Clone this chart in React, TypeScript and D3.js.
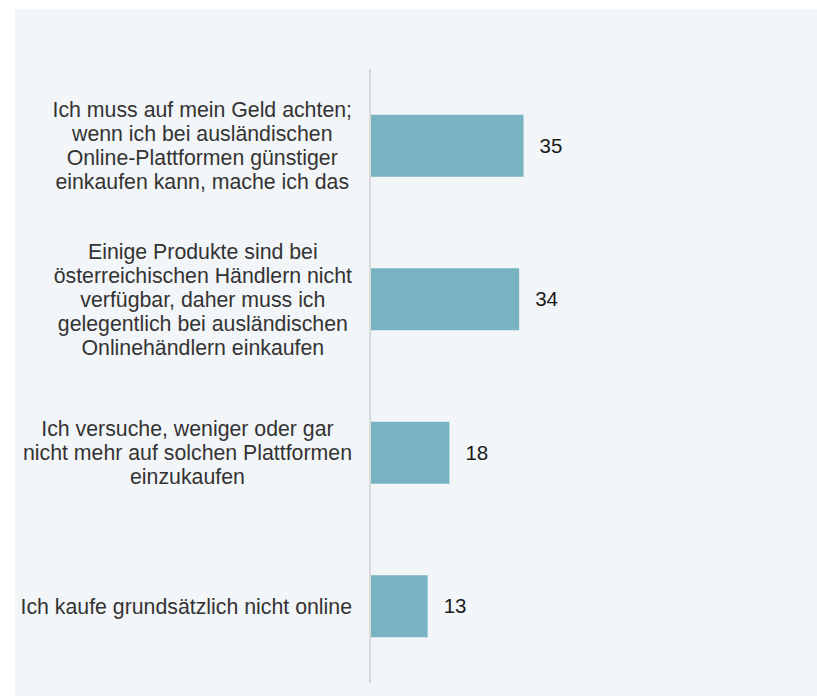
import React, { useEffect, useRef } from "react";
import * as d3 from "d3";

// Survey answers (multi-line labels) and their shares in percent
const categories: string[] = [
  "Ich muss auf mein Geld achten;\nwenn ich bei ausländischen\nOnline-Plattformen günstiger\neinkaufen kann, mache ich das",
  "Einige Produkte sind bei\nösterreichischen Händlern nicht\nverfügbar, daher muss ich\ngelegentlich bei ausländischen\nOnlinehändlern einkaufen",
  "Ich versuche, weniger oder gar\nnicht mehr auf solchen Plattformen\neinzukaufen",
  "Ich kaufe grundsätzlich nicht online",
];
const values: number[] = [35, 34, 18, 13];

const W = 817;
const H = 696;

export default function App() {
  const ref = useRef<SVGSVGElement | null>(null);

  useEffect(() => {
    const svg = d3.select(ref.current);
    svg.selectAll("*").remove();

    const font = "'Liberation Sans', Arial, Helvetica, sans-serif";
    const fontSize = 21.3;
    const lineH = 24;

    // panel background
    svg
      .append("rect")
      .attr("x", 15)
      .attr("y", 9)
      .attr("width", W - 15)
      .attr("height", H - 9)
      .attr("fill", "#f3f6f9");

    const x0 = 371;
    const x = d3.scaleLinear().domain([0, 35]).range([x0, x0 + 152.5]);
    const y = d3
      .scaleBand<number>()
      .domain(d3.range(categories.length))
      .range([69, 683])
      .paddingInner(0.596)
      .paddingOuter(0.298);

    // bars
    svg
      .selectAll("rect.bar")
      .data(values)
      .join("rect")
      .attr("class", "bar")
      .attr("x", x(0))
      .attr("y", (_, i) => y(i)!)
      .attr("width", (d) => x(d) - x(0))
      .attr("height", y.bandwidth())
      .attr("fill", "#78b3c2");

    // vertical baseline
    svg
      .append("line")
      .attr("x1", x0 - 1)
      .attr("x2", x0 - 1)
      .attr("y1", 69)
      .attr("y2", 683)
      .attr("stroke", "#d9d9d9")
      .attr("stroke-width", 2);

    // value labels
    svg
      .selectAll("text.val")
      .data(values)
      .join("text")
      .attr("class", "val")
      .attr("x", (d) => x(d) + 16)
      .attr("y", (_, i) => y(i)! + y.bandwidth() / 2)
      .attr("dy", "0.35em")
      .attr("font-family", font)
      .attr("font-size", 20.5)
      .attr("fill", "#1a1a1a")
      .text((d) => String(d));

    // category labels: lines centred within a block right-aligned to the axis
    const rightEdge = 352;
    categories.forEach((cat, i) => {
      const lines = cat.split("\n");
      const cy = y(i)! + y.bandwidth() / 2;
      const t = svg
        .append("text")
        .attr("font-family", font)
        .attr("font-size", fontSize)
        .attr("fill", "#333333")
        .attr("text-anchor", "middle");
      const spans = lines.map((ln, k) =>
        t
          .append("tspan")
          .attr("y", cy + (k - (lines.length - 1) / 2) * lineH)
          .attr("dy", "0.35em")
          .text(ln)
      );
      const maxW = d3.max(spans, (s) => (s.node() as SVGTSpanElement).getComputedTextLength()) ?? 0;
      spans.forEach((s) => s.attr("x", rightEdge - maxW / 2));
    });
  }, []);

  return (
    <div style={{ position: "absolute", left: 0, top: 0 }}>
      <svg ref={ref} width={W} height={H} style={{ display: "block" }} />
    </div>
  );
}
